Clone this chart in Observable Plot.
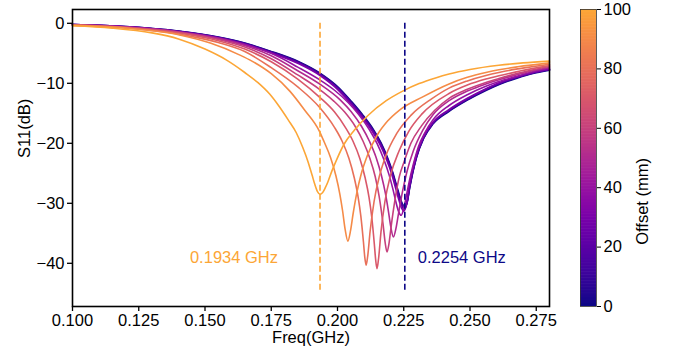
<!DOCTYPE html>
<html><head><meta charset="utf-8">
<script src="https://cdn.jsdelivr.net/npm/d3@7"></script>
<script src="https://cdn.jsdelivr.net/npm/@observablehq/plot@0.6"></script>
<style>
body{margin:0;background:#fff;}
#wrap{position:relative;width:673px;height:358px;}
#main{position:absolute;left:0;top:0;}
#cbar{position:absolute;left:570px;top:0;}
</style></head><body><div id="wrap"><div id="main"></div><div id="cbar"></div></div>
<script>
// Offsets (mm) of each curve
const offsets = [0, 10, 20, 30, 40, 50, 60, 70, 80, 90, 100];

// [freq GHz, S11 dB]
const curve_off0 = [[0.100,-0.2],[0.120,-0.55],[0.140,-1.3],[0.155,-2.3],[0.165,-3.3],[0.1744,-4.6],[0.1854,-6.4],[0.1934,-8.3],[0.2004,-10.7],[0.2054,-13.1],[0.2094,-15.2],[0.2134,-17.6],[0.2164,-19.9],[0.2189,-22.4],[0.2209,-24.9],[0.2224,-27.2],[0.2234,-28.7],[0.2244,-30.0],[0.2254,-30.5],[0.2264,-29.6],[0.2273,-27.3],[0.2298,-22.4],[0.2325,-19.2],[0.236,-16.8],[0.242,-14.7],[0.249,-12.8],[0.256,-11.2],[0.261,-10.2],[0.268,-9.1],[0.2733,-8.4],[0.280,-7.8]];
const curve_off10 = [[0.100,-0.2],[0.120,-0.56],[0.140,-1.32],[0.155,-2.33],[0.165,-3.34],[0.1744,-4.66],[0.1854,-6.48],[0.1934,-8.4],[0.2003,-10.8],[0.2053,-13.2],[0.2093,-15.3],[0.2133,-17.7],[0.2163,-20.0],[0.2188,-22.5],[0.2208,-25.0],[0.2223,-27.3],[0.2233,-28.8],[0.2243,-30.1],[0.2253,-30.7],[0.2263,-29.8],[0.2272,-27.4],[0.2297,-22.4],[0.2324,-19.2],[0.236,-16.7],[0.242,-14.6],[0.249,-12.7],[0.256,-11.1],[0.261,-10.1],[0.268,-9.0],[0.2733,-8.35],[0.280,-7.75]];
const curve_off20 = [[0.100,-0.21],[0.120,-0.57],[0.140,-1.34],[0.155,-2.37],[0.165,-3.4],[0.1744,-4.75],[0.1854,-6.6],[0.1934,-8.55],[0.2002,-10.9],[0.2052,-13.3],[0.2092,-15.4],[0.2132,-17.8],[0.2162,-20.1],[0.2187,-22.6],[0.2207,-25.1],[0.2222,-27.4],[0.2232,-29.0],[0.2242,-30.3],[0.2252,-31.0],[0.2262,-30.0],[0.2271,-27.5],[0.2296,-22.5],[0.2323,-19.2],[0.236,-16.6],[0.242,-14.5],[0.249,-12.6],[0.256,-11.0],[0.261,-10.0],[0.268,-8.95],[0.2733,-8.3],[0.280,-7.7]];
const curve_off30 = [[0.100,-0.22],[0.120,-0.58],[0.140,-1.37],[0.155,-2.42],[0.165,-3.48],[0.1744,-4.85],[0.1854,-6.75],[0.1934,-8.7],[0.2000,-11.0],[0.2050,-13.4],[0.2090,-15.5],[0.2130,-17.9],[0.2160,-20.2],[0.2185,-22.7],[0.2205,-25.2],[0.2220,-27.6],[0.2230,-29.2],[0.2240,-30.6],[0.2250,-31.3],[0.2260,-30.2],[0.2269,-27.6],[0.2294,-22.5],[0.2321,-19.2],[0.236,-16.5],[0.242,-14.4],[0.249,-12.5],[0.256,-10.9],[0.261,-9.9],[0.268,-8.9],[0.2733,-8.25],[0.280,-7.65]];
const curve_off40 = [[0.100,-0.24],[0.120,-0.6],[0.140,-1.4],[0.155,-2.45],[0.165,-3.55],[0.175,-5.0],[0.185,-7.3],[0.1932,-9.4],[0.1990,-11.2],[0.2040,-13.2],[0.2080,-15.2],[0.2120,-17.7],[0.2150,-20.1],[0.2175,-22.7],[0.2195,-25.3],[0.2210,-27.8],[0.2220,-29.7],[0.2230,-31.3],[0.2240,-32.0],[0.2250,-30.9],[0.2260,-28.7],[0.2270,-26.5],[0.2285,-23.7],[0.2305,-20.6],[0.2330,-18.2],[0.2360,-16.1],[0.2421,-13.7],[0.249,-11.9],[0.256,-10.5],[0.2609,-9.7],[0.268,-8.8],[0.2733,-8.1],[0.280,-7.5]];
const curve_off50 = [[0.100,-0.26],[0.120,-0.64],[0.140,-1.45],[0.155,-2.55],[0.165,-3.7],[0.175,-5.4],[0.185,-7.9],[0.1932,-10.1],[0.2011,-12.8],[0.2051,-14.7],[0.2091,-17.2],[0.2121,-19.7],[0.2146,-22.4],[0.2166,-25.4],[0.2181,-28.4],[0.2191,-31.0],[0.2201,-33.9],[0.2211,-35.6],[0.2221,-34.1],[0.2231,-31.5],[0.2246,-27.9],[0.2261,-24.9],[0.2286,-21.3],[0.2321,-17.9],[0.2361,-15.2],[0.2421,-12.9],[0.249,-11.3],[0.256,-10.1],[0.2609,-9.4],[0.268,-8.55],[0.2733,-7.95],[0.280,-7.35]];
const curve_off60 = [[0.100,-0.28],[0.120,-0.67],[0.140,-1.5],[0.155,-2.7],[0.165,-3.95],[0.175,-5.9],[0.185,-8.6],[0.1932,-11.0],[0.1987,-13.0],[0.2027,-14.8],[0.2067,-17.2],[0.2097,-19.7],[0.2122,-22.5],[0.2142,-25.5],[0.2157,-28.8],[0.2172,-33.5],[0.2180,-36.6],[0.2187,-38.1],[0.2194,-36.8],[0.2202,-34.0],[0.2217,-29.4],[0.2233,-25.6],[0.2252,-23.0],[0.2277,-20.0],[0.2317,-17.1],[0.2367,-14.5],[0.2421,-12.5],[0.249,-11.0],[0.256,-9.85],[0.2609,-9.2],[0.268,-8.35],[0.2733,-7.8],[0.280,-7.2]];
const curve_off70 = [[0.100,-0.3],[0.120,-0.7],[0.140,-1.6],[0.155,-2.9],[0.165,-4.3],[0.175,-6.4],[0.185,-9.3],[0.1932,-12.3],[0.1989,-14.8],[0.2029,-17.3],[0.2059,-19.7],[0.2084,-22.5],[0.2104,-25.7],[0.2119,-29.0],[0.2129,-32.2],[0.2139,-36.8],[0.2144,-39.4],[0.2149,-40.9],[0.2155,-39.2],[0.2164,-34.8],[0.2179,-29.7],[0.2199,-25.5],[0.2233,-21.2],[0.2269,-18.0],[0.2319,-15.1],[0.2421,-11.7],[0.249,-10.3],[0.256,-9.3],[0.2609,-8.75],[0.268,-8.05],[0.2733,-7.55],[0.280,-7.05]];
const curve_off80 = [[0.100,-0.33],[0.120,-0.75],[0.140,-1.8],[0.155,-3.2],[0.165,-4.7],[0.175,-7.4],[0.185,-10.6],[0.1932,-14.0],[0.1988,-17.3],[0.2018,-19.7],[0.2043,-22.5],[0.2063,-25.7],[0.2078,-29.0],[0.2088,-32.1],[0.2098,-36.5],[0.2103,-39.0],[0.2108,-40.3],[0.2114,-38.8],[0.2123,-34.7],[0.2138,-29.7],[0.2158,-25.5],[0.2183,-22.0],[0.2223,-18.4],[0.2278,-15.3],[0.2355,-12.6],[0.2421,-10.8],[0.249,-9.6],[0.256,-8.7],[0.2609,-8.2],[0.268,-7.6],[0.2733,-7.25],[0.280,-6.85]];
const curve_off90 = [[0.100,-0.35],[0.120,-0.8],[0.140,-1.9],[0.152,-3.3],[0.1632,-5.3],[0.1677,-6.3],[0.175,-8.4],[0.182,-11.3],[0.1875,-14.4],[0.1932,-18.0],[0.1949,-19.7],[0.1974,-22.4],[0.1994,-25.4],[0.2009,-28.5],[0.2019,-31.2],[0.2029,-34.4],[0.2039,-36.3],[0.2049,-34.6],[0.2059,-31.7],[0.2074,-28.0],[0.2089,-25.2],[0.2114,-21.9],[0.2149,-18.7],[0.2189,-16.3],[0.2233,-14.5],[0.232,-12.3],[0.2421,-10.1],[0.249,-9.0],[0.256,-8.2],[0.2609,-7.75],[0.268,-7.25],[0.280,-6.6]];
const curve_off100 = [[0.100,-0.4],[0.115,-0.8],[0.130,-1.6],[0.140,-2.6],[0.150,-4.3],[0.158,-6.1],[0.165,-8.2],[0.170,-9.9],[0.1744,-11.8],[0.1774,-13.5],[0.1814,-16.1],[0.1844,-18.2],[0.1869,-20.7],[0.1889,-23.1],[0.1904,-25.3],[0.1914,-26.8],[0.1924,-28.0],[0.1934,-28.5],[0.1944,-28.2],[0.1954,-27.4],[0.1964,-26.4],[0.1979,-24.6],[0.1999,-22.5],[0.2024,-20.2],[0.2064,-17.8],[0.2114,-15.4],[0.2184,-12.9],[0.2246,-11.3],[0.2308,-10.05],[0.2370,-9.1],[0.2421,-8.45],[0.250,-7.7],[0.2609,-7.0],[0.270,-6.6],[0.280,-6.3]];

const xTicks = [0.100, 0.125, 0.150, 0.175, 0.200, 0.225, 0.250, 0.275];
const yTicks = [0, -10, -20, -30, -40];
const cbarTicks = [0, 20, 40, 60, 80, 100];
const markerFreqs = [0.1934, 0.2254];
const markerLabels = ["0.1934 GHz", "0.2254 GHz"];
const markerOffsets = [100, 0];

const curves = [curve_off0, curve_off10, curve_off20, curve_off30, curve_off40, curve_off50,
                curve_off60, curve_off70, curve_off80, curve_off90, curve_off100];
const rows = offsets.flatMap((o, i) => curves[i].map(([f, db]) => ({offset: o, f, db})));
const markers = markerFreqs.map((f, i) => ({f, label: markerLabels[i], offset: markerOffsets[i]}));

const FONT = "Liberation Sans, Arial, sans-serif";
const FS = 16.5;
const colorScale = {type: "linear", domain: [0, 100], interpolate: t => d3.interpolatePlasma(0.8 * t)};

const main = Plot.plot({
  width: 570, height: 358,
  marginLeft: 72, marginRight: 21, marginTop: 9, marginBottom: 52,
  style: {fontFamily: FONT, fontSize: FS + "px", color: "black", background: "white", overflow: "visible"},
  x: {domain: [0.1, 0.28], label: null},
  y: {domain: [-47.2, 2.3], label: null},
  color: colorScale,
  marks: [
    Plot.line(rows, {x: "f", y: "db", z: "offset", stroke: "offset", strokeWidth: 1.6, curve: "monotone-x"}),
    Plot.ruleX(markers, {x: "f", y1: 0, y2: -45, stroke: "offset", strokeWidth: 1.6, strokeDasharray: "6,3"}),
    Plot.text([markers[0]], {x: "f", y: -39.1, text: "label", fill: "offset", textAnchor: "end", dx: -42, fontSize: FS}),
    Plot.text([markers[1]], {x: "f", y: -39.1, text: "label", fill: "offset", textAnchor: "start", dx: 13, fontSize: FS}),
    Plot.frame({stroke: "black", strokeWidth: 1.6}),
    Plot.axisX({ticks: xTicks, tickFormat: d3.format(".3f"), tickSize: 5, tickPadding: 3, strokeWidth: 1.3, label: null, fontSize: FS}),
    Plot.axisY({ticks: yTicks, tickFormat: d3.format("d"), tickSize: 5, tickPadding: 3, strokeWidth: 1.3, label: null, fontSize: FS}),
    Plot.text(["S11(dB)"], {frameAnchor: "left", dx: -48, rotate: -90, fontSize: FS}),
    Plot.text(["Freq(GHz)"], {frameAnchor: "bottom", dy: 36, fontSize: FS})
  ]
});
document.getElementById("main").append(main);

const cbarSteps = d3.range(0, 100, 0.5);
const cbar = Plot.plot({
  width: 103, height: 358,
  marginLeft: 10, marginRight: 77, marginTop: 9, marginBottom: 52,
  style: {fontFamily: FONT, fontSize: FS + "px", color: "black", background: "white", overflow: "visible"},
  x: {domain: [0, 1], axis: null},
  y: {domain: [0, 100], label: null, axis: null},
  color: colorScale,
  marks: [
    Plot.rect(cbarSteps, {x1: 0, x2: 1, y1: d => d, y2: d => Math.min(100, d + 0.7), fill: d => d + 0.25}),
    Plot.frame({stroke: "#333", strokeWidth: 0.8}),
    Plot.axisY({anchor: "right", ticks: cbarTicks, tickFormat: d3.format("d"), tickSize: 4, tickPadding: 3, label: null, fontSize: FS}),
    Plot.text(["Offset (mm)"], {frameAnchor: "right", dx: 46, rotate: -90, fontSize: FS})
  ]
});
document.getElementById("cbar").append(cbar);
</script></body></html>
